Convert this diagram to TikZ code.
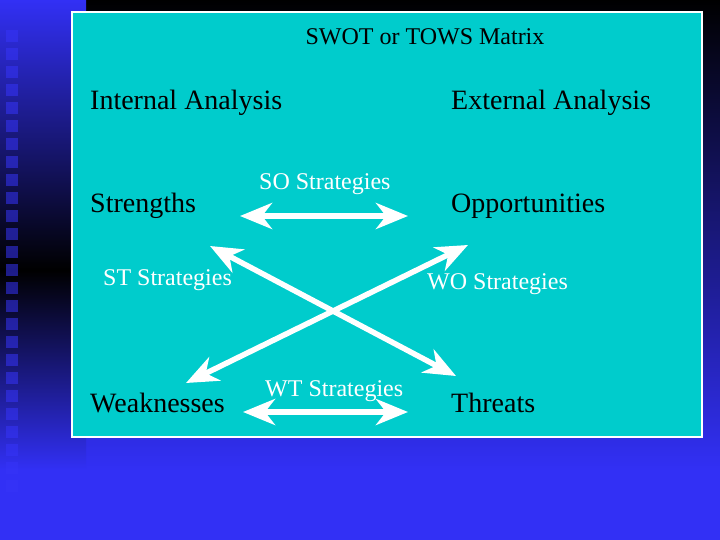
\documentclass[tikz,border=0pt]{standalone}
\usepackage{fontspec}
\setmainfont{Liberation Serif}
\usetikzlibrary{arrows.meta}
\definecolor{bgblue}{RGB}{50,48,245}
\definecolor{sqblue}{RGB}{54,52,248}
\definecolor{boxcyan}{RGB}{0,204,204}
\tikzset{
  big/.style={font=\fontsize{28}{32}\selectfont, text=black, inner sep=0pt, anchor=base west},
  strat/.style={font=\fontsize{24}{28}\selectfont, text=white, inner sep=0pt, anchor=base west},
  warrow/.style={draw=white, line width=5.5pt,
    {Stealth[length=32pt,width=26pt,inset=10pt]}-{Stealth[length=32pt,width=26pt,inset=10pt]}}
}
\begin{document}
\begin{tikzpicture}[x=1pt,y=-1pt]
\useasboundingbox (0,0) rectangle (720,540);
% background
\fill[bgblue] (0,0) rectangle (720,540);
\shade[top color=black, bottom color=bgblue] (86,0) rectangle (720,470);
\shade[top color=bgblue, bottom color=black] (0,0) rectangle (86,270);
\shade[top color=black, bottom color=bgblue] (0,270) rectangle (86,470);
% squares
\foreach \k in {-5,...,20}{
  \fill[sqblue, opacity=0.55] (6,{126+18*\k-6}) rectangle (18,{126+18*\k+6});
}
% main box
\draw[draw=white, line width=1.5pt, fill=boxcyan] (72,12) rectangle (702,437);
% texts
\node[font=\fontsize{24}{28}\selectfont, inner sep=0pt, anchor=base] (title) at (425,45) {SWOT or TOWS Matrix};
\node[big] (int) at (90,110) {Internal Analysis};
\node[big] (ext) at (451,110) {External Analysis};
\node[big] (str) at (90,212) {Strengths};
\node[big] (opp) at (451,212) {Opportunities};
\node[big] (wea) at (90,412) {Weaknesses};
\node[big] (thr) at (451,412) {Threats};
\node[strat] (so) at (259,190) {SO Strategies};
\node[strat] (st) at (103,285) {ST Strategies};
\node[strat] (wo) at (427,289) {WO Strategies};
\node[strat] (wt) at (265,396) {WT Strategies};
% arrow ends
\coordinate (soL) at (240,216);
\coordinate (soR) at (408,216);
\coordinate (wtL) at (243,412);
\coordinate (wtR) at (408,412);
\coordinate (stE) at (210,246);
\coordinate (thE) at (456,376);
\coordinate (woE) at (468,245);
\coordinate (weE) at (186,383);
\draw[warrow] (soL) -- (soR);
\draw[warrow] (wtL) -- (wtR);
\draw[warrow] (stE) -- (thE);
\draw[warrow] (woE) -- (weE);
\end{tikzpicture}
\end{document}
